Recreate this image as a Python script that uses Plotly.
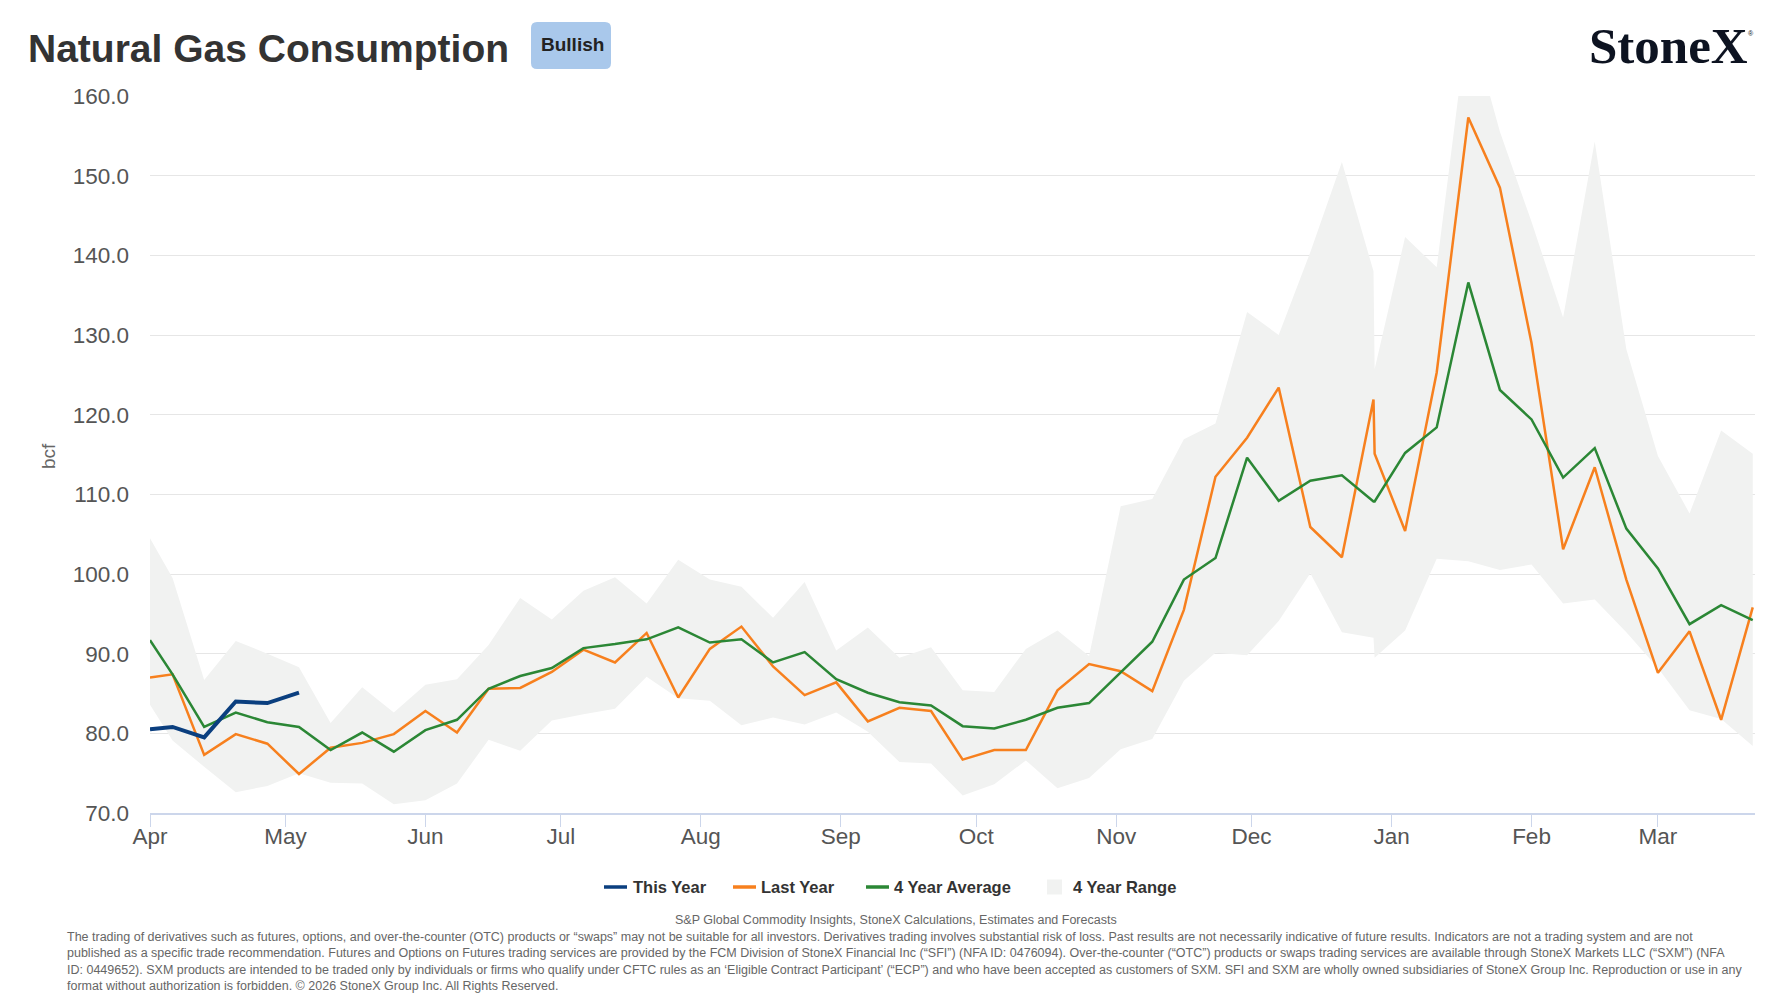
import plotly.graph_objects as go

# weekly points, gas year Apr-Mar (Dec 28 appears twice in the source data)
dates = [
    "2026-04-01", "2026-04-06", "2026-04-13", "2026-04-20", "2026-04-27",
    "2026-05-04", "2026-05-11", "2026-05-18", "2026-05-25", "2026-06-01",
    "2026-06-08", "2026-06-15", "2026-06-22", "2026-06-29", "2026-07-06",
    "2026-07-13", "2026-07-20", "2026-07-27", "2026-08-03", "2026-08-10",
    "2026-08-17", "2026-08-24", "2026-08-31", "2026-09-07", "2026-09-14",
    "2026-09-21", "2026-09-28", "2026-10-05", "2026-10-12", "2026-10-19",
    "2026-10-26", "2026-11-02", "2026-11-09", "2026-11-16", "2026-11-23",
    "2026-11-30", "2026-12-07", "2026-12-14", "2026-12-21", "2026-12-28",
    "2026-12-28 06:00", "2027-01-04", "2027-01-11", "2027-01-18", "2027-01-25",
    "2027-02-01", "2027-02-08", "2027-02-15", "2027-02-22", "2027-03-01",
    "2027-03-08", "2027-03-15", "2027-03-22",
]

this_year = [80.5, 80.8, 79.5, 84.0, 83.8, 85.1]

last_year = [
    87.0, 87.4, 77.3, 79.9, 78.7, 74.9, 78.2, 78.8, 79.9, 82.8,
    80.1, 85.6, 85.7, 87.7, 90.5, 88.9, 92.6, 84.5, 90.6, 93.4,
    88.4, 84.8, 86.4, 81.5, 83.2, 82.8, 76.7, 77.9, 77.9, 85.4,
    88.7, 87.8, 85.3, 95.5, 112.2, 117.1, 123.4, 105.9, 102.1, 121.9,
    115.1, 105.4, 125.3, 157.3, 148.5, 129.0, 103.1, 113.4, 99.3, 87.6,
    92.8, 81.7, 95.8,
]

avg_4yr = [
    91.7, 87.4, 80.8, 82.6, 81.4, 80.8, 77.9, 80.1, 77.7, 80.4,
    81.7, 85.6, 87.2, 88.2, 90.7, 91.2, 91.8, 93.3, 91.4, 91.8,
    88.9, 90.2, 86.8, 85.1, 83.9, 83.5, 80.9, 80.6, 81.7, 83.2,
    83.8, 87.7, 91.5, 99.3, 102.0, 114.6, 109.2, 111.7, 112.4, 109.1,
    109.1, 115.2, 118.4, 136.6, 123.1, 119.4, 112.1, 115.8, 105.7, 100.7,
    93.7, 96.1, 94.2,
]

range_high = [
    104.5, 99.5, 86.7, 91.6, 90.0, 88.3, 81.3, 85.8, 82.6, 86.1,
    86.8, 91.1, 97.0, 94.3, 97.9, 99.6, 96.3, 101.8, 99.3, 98.4,
    94.5, 99.0, 90.4, 93.3, 89.5, 90.8, 85.4, 85.2, 90.6, 92.9,
    89.7, 108.5, 109.4, 116.9, 118.9, 132.9, 130.0, 140.4, 151.7, 138.0,
    125.7, 142.3, 138.5, 169.9, 155.5, 144.2, 132.2, 154.3, 128.2, 114.8,
    107.6, 118.0, 115.1,
]

range_low = [
    83.6, 79.1, 75.8, 72.6, 73.4, 75.0, 73.8, 73.7, 71.1, 71.6,
    73.7, 79.2, 77.8, 81.6, 82.4, 83.1, 87.1, 84.4, 84.1, 81.0,
    82.0, 81.1, 82.6, 80.2, 76.4, 76.2, 72.2, 73.6, 76.6, 73.1,
    74.4, 78.0, 79.3, 86.6, 90.1, 89.8, 94.1, 100.1, 92.7, 92.0,
    89.5, 92.9, 101.9, 101.6, 100.5, 101.2, 96.3, 96.8, 92.7, 88.2,
    82.9, 81.8, 78.4,
]

month_ticks = ["2026-04-01", "2026-05-01", "2026-06-01", "2026-07-01", "2026-08-01",
               "2026-09-01", "2026-10-01", "2026-11-01", "2026-12-01", "2027-01-01",
               "2027-02-01", "2027-03-01"]
month_labels = ["Apr", "May", "Jun", "Jul", "Aug", "Sep", "Oct", "Nov", "Dec", "Jan", "Feb", "Mar"]

series_names = ["This Year", "Last Year", "4 Year Average", "4 Year Range"]
series_colors = ["#0b3f7f", "#f7801e", "#2b8735", "#f1f2f1"]

source_text = "S&P Global Commodity Insights, StoneX Calculations, Estimates and Forecasts"
disclaimer = (
    "The trading of derivatives such as futures, options, and over-the-counter (OTC) products or “swaps” may not be suitable for all investors. "
    "Derivatives trading involves substantial risk of loss. Past results are not necessarily indicative of future results. Indicators are not a trading system and are not<br>"
    "published as a specific trade recommendation. Futures and Options on Futures trading services are provided by the FCM Division of StoneX Financial Inc (“SFI”) "
    "(NFA ID: 0476094). Over-the-counter (“OTC”) products or swaps trading services are available through StoneX Markets LLC (“SXM”) (NFA<br>"
    "ID: 0449652). SXM products are intended to be traded only by individuals or firms who qualify under CFTC rules as an ‘Eligible Contract Participant’ (“ECP”) "
    "and who have been accepted as customers of SXM. SFI and SXM are wholly owned subsidiaries of StoneX Group Inc. Reproduction or use in any<br>"
    "format without authorization is forbidden. © 2026 StoneX Group Inc. All Rights Reserved."
)

FONT = "Liberation Sans, Arial, sans-serif"

# page has an 8px body margin, so the figure is the window minus 16px
W, H = 1764, 985
OFF = 8
PL, PT, PW, PH = 142, 88, 1605, 717


def px(x):
    # window pixel -> paper x
    return (x - OFF - PL) / PW


def py(y):
    # window pixel -> paper y
    return (PT + PH - (y - OFF)) / PH


fig = go.Figure()

# 4 year range band
fig.add_trace(go.Scatter(
    x=dates, y=range_low, mode="lines", line=dict(width=0, color=series_colors[3]),
    showlegend=False, hoverinfo="skip"
))
fig.add_trace(go.Scatter(
    x=dates, y=range_high, mode="lines", line=dict(width=0, color=series_colors[3]),
    fill="tonexty", fillcolor=series_colors[3], name=series_names[3], showlegend=False
))

fig.add_trace(go.Scatter(
    x=dates, y=last_year, mode="lines", name=series_names[1],
    line=dict(color=series_colors[1], width=2.5), showlegend=False
))
fig.add_trace(go.Scatter(
    x=dates, y=avg_4yr, mode="lines", name=series_names[2],
    line=dict(color=series_colors[2], width=2.5), showlegend=False
))
fig.add_trace(go.Scatter(
    x=dates[:len(this_year)], y=this_year, mode="lines", name=series_names[0],
    line=dict(color=series_colors[0], width=4), showlegend=False
))

fig.update_layout(
    width=W, height=H, autosize=False,
    margin=dict(l=PL, r=W - PL - PW, t=PT, b=H - PT - PH),
    paper_bgcolor="white", plot_bgcolor="white",
    font=dict(family=FONT, color="#555555"),
    title=dict(
        text="Natural Gas Consumption", x=(28 - OFF) / W, xref="container", xanchor="left",
        y=1 - (48 - OFF) / H, yref="container", yanchor="middle",
        font=dict(family=FONT, size=39, color="#333333", weight="bold")
    ),
    xaxis=dict(
        type="date", range=["2026-04-01", "2027-03-22 12:00"],
        tickvals=month_ticks, ticktext=month_labels,
        showgrid=False, showline=True, linecolor="#ccd6eb", linewidth=2,
        ticks="outside", ticklen=12, tickcolor="#ccd6eb", tickwidth=1,
        tickfont=dict(size=22.5, color="#555555"), ticklabelstandoff=-10, zeroline=False
    ),
    yaxis=dict(
        range=[70, 160], dtick=10, tickformat=".1f",
        showgrid=True, gridcolor="#e6e6e6", gridwidth=1, zeroline=False,
        tickfont=dict(size=22.5, color="#555555"), ticklabelstandoff=20
    ),
)

# "Bullish" badge with rounded corners
fig.add_shape(
    type="path", xref="paper", yref="paper", xsizemode="pixel", ysizemode="pixel",
    xanchor=px(571), yanchor=py(45.5),
    path="M -34,-23.5 L 34,-23.5 Q 40,-23.5 40,-17.5 L 40,17.5 Q 40,23.5 34,23.5 "
         "L -34,23.5 Q -40,23.5 -40,17.5 L -40,-17.5 Q -40,-23.5 -34,-23.5 Z",
    fillcolor="#a9c8eb", line=dict(width=0), layer="above"
)
fig.add_annotation(
    text="Bullish", xref="paper", yref="paper", x=px(572), y=py(44),
    xanchor="center", yanchor="middle", showarrow=False,
    font=dict(family=FONT, size=19, color="#222222", weight="bold")
)

# logo
fig.add_annotation(
    text="StoneX", xref="paper", yref="paper", x=px(1750), y=py(46),
    xanchor="right", yanchor="middle", showarrow=False,
    font=dict(family="Liberation Serif, Times New Roman, serif", size=51,
              color="#0d1321", weight="bold")
)
fig.add_annotation(
    text="®", xref="paper", yref="paper", x=px(1746), y=py(33.5),
    xanchor="left", yanchor="middle", showarrow=False,
    font=dict(family=FONT, size=7, color="#0d1321")
)

# y axis title
fig.add_annotation(
    text="bcf", xref="paper", yref="paper", x=px(48), y=py(456), textangle=-90,
    xanchor="center", yanchor="middle", showarrow=False,
    font=dict(family=FONT, size=19, color="#666666")
)

# legend row
legend_y = 887
legend_items = [(604, 630.5), (733, 759), (866, 891.5), (1047, 1071)]
for i, (sx, tx) in enumerate(legend_items):
    if i < 3:
        fig.add_shape(type="line", xref="paper", yref="paper",
                      x0=px(sx), x1=px(sx + 23), y0=py(legend_y), y1=py(legend_y),
                      line=dict(color=series_colors[i], width=3.5))
    else:
        fig.add_shape(type="rect", xref="paper", yref="paper",
                      x0=px(sx), x1=px(sx + 15), y0=py(legend_y - 7.5), y1=py(legend_y + 7.5),
                      fillcolor=series_colors[i], line=dict(width=0))
    fig.add_annotation(
        text=series_names[i], xref="paper", yref="paper", x=px(tx), y=py(legend_y),
        xanchor="left", yanchor="middle", showarrow=False,
        font=dict(family=FONT, size=16.5, color="#333333", weight="bold")
    )

# source and disclaimer
fig.add_annotation(
    text=source_text, xref="paper", yref="paper", x=px(895.7), y=py(920),
    xanchor="center", yanchor="middle", showarrow=False,
    font=dict(family=FONT, size=12.5, color="#666666")
)
fig.add_annotation(
    text=disclaimer, xref="paper", yref="paper", x=px(64.7), y=py(961),
    xanchor="left", yanchor="middle", align="left", showarrow=False,
    font=dict(family=FONT, size=12.5, color="#666666")
)

fig.write_html("out.html")
